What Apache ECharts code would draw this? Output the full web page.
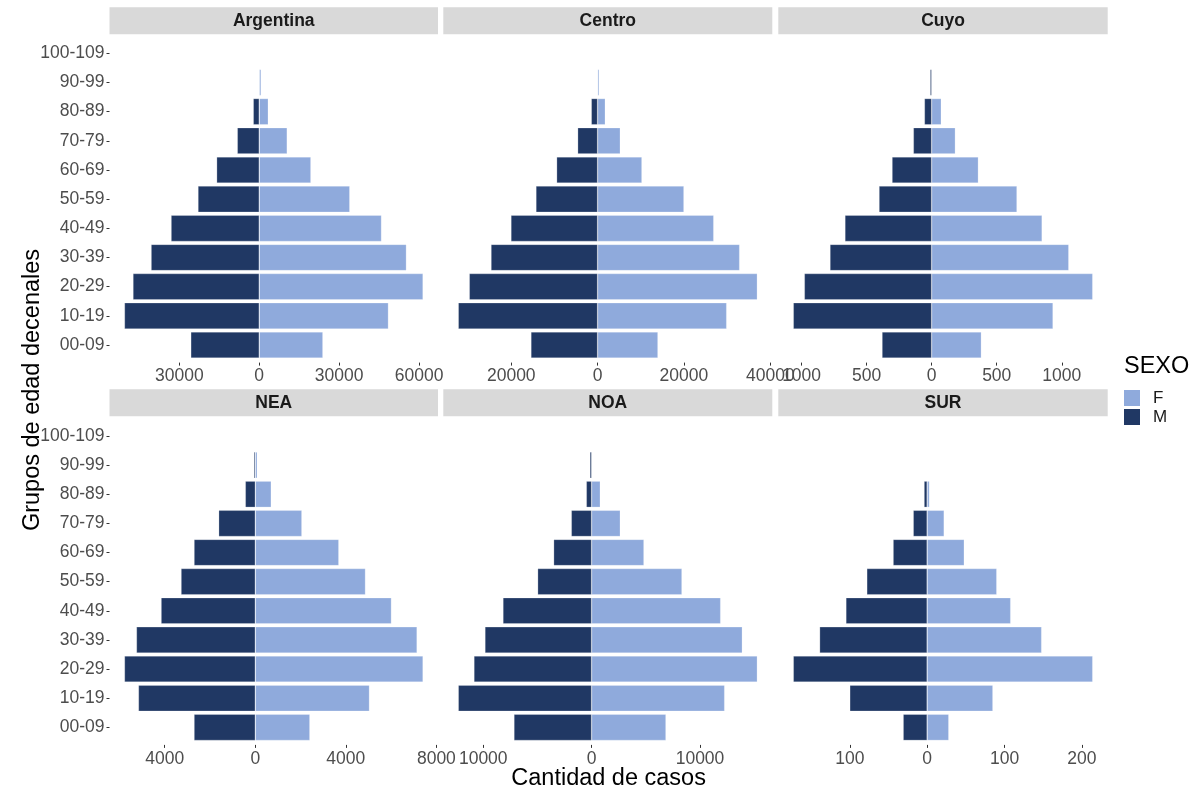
<!DOCTYPE html>
<html>
<head>
<meta charset="utf-8">
<script src="https://cdn.jsdelivr.net/npm/echarts@6/dist/echarts.min.js"></script>
<style>
html,body{margin:0;padding:0;background:#fff;}
#chart{width:1198px;height:792px;}
</style>
</head>
<body>
<div id="chart"></div>
<script>
// ---- Data ----
var ageGroups = ['00-09','10-19','20-29','30-39','40-49','50-59','60-69','70-79','80-89','90-99','100-109'];
var regions = ['Argentina','Centro','Cuyo','NEA','NOA','SUR'];

var argentinaF = [23900, 48500, 61500, 55250, 45900, 34000, 19400, 10500, 3400, 700, 0];
var argentinaM = [25700, 50600, 47400, 40600, 33100, 23000, 16000, 8250, 2250, 150, 0];
var centroF    = [13980, 29900, 37000, 32900, 26900, 20000, 10270, 5250, 1780, 350, 0];
var centroM    = [15450, 32280, 29730, 24700, 20080, 14290, 9500, 4630, 1470, 80, 0];
var cuyoF      = [382, 933, 1238, 1054, 849, 656, 359, 182, 74, 0, 0];
var cuyoM      = [382, 1064, 979, 782, 667, 405, 305, 141, 56, 12, 0];
var neaF       = [2412, 5044, 7412, 7148, 6015, 4868, 3691, 2059, 706, 90, 0];
var neaM       = [2706, 5162, 5780, 5250, 4162, 3280, 2706, 1618, 441, 60, 0];
var noaF       = [6861, 12276, 15292, 13907, 11907, 8338, 4830, 2646, 800, 30, 0];
var noaM       = [7169, 12307, 10861, 9846, 8184, 4984, 3508, 1877, 492, 160, 0];
var surF       = [28, 85, 214, 148, 108, 90, 48, 22, 3, 0, 0];
var surM       = [31, 100, 173, 139, 105, 78, 44, 18, 4, 0, 0];

var femaleByRegion = [argentinaF, centroF, cuyoF, neaF, noaF, surF];
var maleByRegion   = [argentinaM, centroM, cuyoM, neaM, noaM, surM];

// tick labels per panel
var ticksArgentina = [-30000, 0, 30000, 60000];
var ticksCentro    = [-20000, 0, 20000, 40000];
var ticksCuyo      = [-1000, -500, 0, 500, 1000];
var ticksNEA       = [-4000, 0, 4000, 8000];
var ticksNOA       = [-10000, 0, 10000];
var ticksSUR       = [-100, 0, 100, 200];
var ticksByRegion = [ticksArgentina, ticksCentro, ticksCuyo, ticksNEA, ticksNOA, ticksSUR];

// ---- Layout ----
var FONT = 'Liberation Sans, Arial, sans-serif';
var colorF = '#8FAADC', colorM = '#203864';
var colLeft  = [109.5, 443.3, 778.3];
var colWidth = [328.5, 329.0, 329.4];
var rowTop   = [38.7, 421.4];
var rowH     = [320.9, 320.5];
var stripTop = [7.3, 389.3];
var stripH   = 27;

var chart = echarts.init(document.getElementById('chart'), null, {renderer:'canvas'});

var grids = [], xAxes = [], yAxes = [], series = [], graphics = [];
regions.forEach(function(reg, i){
  var r = Math.floor(i/3), c = i%3;
  grids.push({left: colLeft[c], top: rowTop[r], width: colWidth[c], height: rowH[r], containLabel:false});
  var F = femaleByRegion[i], M = maleByRegion[i];
  var maxF = Math.max.apply(null, F), maxM = Math.max.apply(null, M);
  var span = maxF + maxM;
  xAxes.push({
    type:'value', gridIndex:i,
    min: -maxM - 0.05*span, max: maxF + 0.05*span,
    offset: 3,
    axisLine:{show:false, onZero:false},
    splitLine:{show:false},
    axisTick:{show:true, length:3, lineStyle:{color:'#333333', width:1}, customValues: ticksByRegion[i]},
    axisLabel:{show:true, margin:5, color:'#4d4d4d', fontSize:17.5, fontFamily:FONT,
      customValues: ticksByRegion[i],
      formatter:function(v){ return String(Math.abs(v)); }}
  });
  var showY = (c === 0);
  yAxes.push({
    type:'category', gridIndex:i, data: ageGroups, position:'left',
    axisLine:{show:false, onZero:false},
    axisTick:{show:showY, length:3, alignWithLabel:true, lineStyle:{color:'#333333'}},
    axisLabel:{show:showY, margin:5, color:'#4d4d4d', fontSize:17.5, fontFamily:FONT},
    splitLine:{show:false}
  });
  series.push({
    name:'F', type:'bar', xAxisIndex:i, yAxisIndex:i, barWidth:'90%',
    data: F.map(function(v){ return v === 0 ? null : v; }),
    itemStyle:{color:colorF, borderColor:'rgba(255,255,255,0.4)', borderWidth:0.6},
    animation:false
  });
  series.push({
    name:'M', type:'bar', xAxisIndex:i, yAxisIndex:i, barWidth:'90%', barGap:'-100%',
    data: M.map(function(v){ return v === 0 ? null : -v; }),
    itemStyle:{color:colorM, borderColor:'rgba(255,255,255,0.4)', borderWidth:0.6},
    animation:false
  });
  // strip
  graphics.push({type:'rect', shape:{x:colLeft[c], y:stripTop[r], width:colWidth[c], height:stripH},
    style:{fill:'#d9d9d9'}, silent:true});
  graphics.push({type:'text', x: colLeft[c] + colWidth[c]/2, y: stripTop[r] + stripH/2,
    style:{text: reg, fill:'#1a1a1a', font:'bold 17.5px ' + FONT, textAlign:'center', textVerticalAlign:'middle'}, silent:true});
});

// axis titles
graphics.push({type:'text', x: 608.6, y: 779,
  style:{text:'Cantidad de casos', fill:'#000', font:'23.5px ' + FONT, textAlign:'center', textVerticalAlign:'middle'}, silent:true});
graphics.push({type:'text', x: 33, y: 390, rotation: Math.PI/2,
  style:{text:'Grupos de edad decenales', fill:'#000', font:'23.5px ' + FONT, textAlign:'center', textVerticalAlign:'middle'}, silent:true});
// legend title
graphics.push({type:'text', x: 1124, y: 367,
  style:{text:'SEXO', fill:'#000', font:'23.5px ' + FONT, textAlign:'left', textVerticalAlign:'middle'}, silent:true});

chart.setOption({
  backgroundColor:'#ffffff',
  animation:false,
  grid: grids,
  xAxis: xAxes,
  yAxis: yAxes,
  series: series,
  legend:{
    data:['F','M'], orient:'vertical', left:1124, top:389.5, padding:0,
    itemWidth:16, itemHeight:16, itemGap:2, icon:'rect',
    itemStyle:{borderWidth:0},
    selectedMode:false,
    textStyle:{fontSize:17, fontFamily:FONT, color:'#1a1a1a', padding:[0,0,0,8]}
  },
  graphic: graphics
});
</script>
</body>
</html>
